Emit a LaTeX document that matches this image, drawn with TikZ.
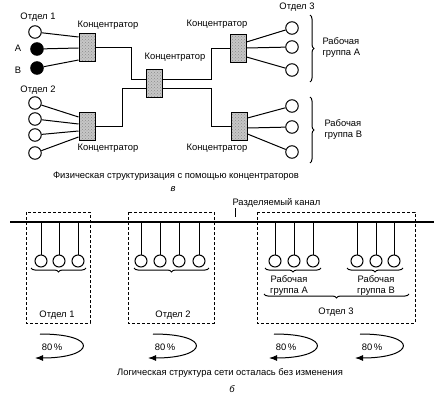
\documentclass[tikz,border=0pt]{standalone}
\usepackage{fontspec}
\setmainfont{Liberation Sans}
\usepackage{tikz}
\usetikzlibrary{arrows.meta}
\usetikzlibrary{patterns}
\usetikzlibrary{decorations.pathreplacing}
\definecolor{mgray}{rgb}{0.55, 0.55, 0.55}

\tikzset{
  hub/.style={draw, minimum width=16pt, minimum height=28pt, inner sep=0pt,
    preaction={fill=mgray!50}, pattern=crosshatch dots, pattern color=mgray},
  station/.style={draw, circle, minimum size=12.5pt, inner sep=0pt, fill=white},
  busy/.style={station, fill=black},
  txt/.style={font=\fontsize{9.4}{11}\selectfont, inner sep=0pt, align=center},
  tag/.style={font=\fontsize{9.4}{11}\selectfont\itshape, inner sep=0pt},
  deptbox/.style={dash pattern=on 3pt off 2pt},
  brc/.style={decorate, decoration={brace, amplitude=4pt}},
  flow/.style={-{Latex[length=8pt, width=6pt]}}
}

\begin{document}
\begin{tikzpicture}[x=1pt, y=-1pt, line width=1pt]
  \useasboundingbox (0, 0) rectangle (442, 401);

  % concentrators
  \node [hub] (k1) at (87, 48) {};
  \node [hub] (k2) at (87, 127) {};
  \node [hub] (k0) at (154, 84) {};
  \node [hub] (k3) at (238, 49) {};
  \node [hub] (k4) at (239, 127) {};

  \node [txt] (lk1) at (108, 25) {Концентратор};
  \node [txt] (lk2) at (108, 148) {Концентратор};
  \node [txt] (lk0) at (175, 57) {Концентратор};
  \node [txt] (lk3) at (217, 24) {Концентратор};
  \node [txt] (lk4) at (217, 148) {Концентратор};

  \draw (k1.east) -- ++(36, 0) |- ([yshift=4pt]k0.west);
  \draw (k2.east) -- ++(27, 0) |- ([yshift=-5pt]k0.west);
  \draw ([yshift=4pt]k0.east) -- ++(49, 0) |- (k3.west);
  \draw ([yshift=-5pt]k0.east) -- ++(49, 0) |- (k4.west);

  % Otdel 1
  \node [txt] (lo1) at (38, 17) {Отдел 1};
  \node [station] (s11) at (35, 32) {};
  \node [busy] (s12) at (37, 49) {};
  \node [busy] (s13) at (37, 68) {};
  \node [txt] (la) at (18, 48) {A};
  \node [txt] (lb) at (18, 70) {B};
  \draw (s11) -- ([yshift=11pt]k1.west);
  \draw (s12) -- (k1.west);
  \draw (s13) -- ([yshift=-12pt]k1.west);

  % Otdel 2
  \node [txt] (lo2) at (38, 90) {Отдел 2};
  \foreach \y/\h [count=\i] in {103/10, 119/3, 135/-4, 153/-10} {
    \node [station] (s2\i) at (35, \y) {};
    \draw (s2\i) -- ([yshift=\h pt]k2.west);
  }

  % Otdel 3
  \node [txt] (lo3) at (297, 7) {Отдел 3};
  \foreach \y/\h [count=\i] in {28/7, 47/1, 70/-8} {
    \node [station] (s3\i) at (292, \y) {};
    \draw (s3\i) -- ([yshift=\h pt]k3.east);
  }
  \foreach \y/\h [count=\i] in {106/9, 127/-1, 152/-7} {
    \node [station] (s4\i) at (292, \y) {};
    \draw (s4\i) -- ([yshift=\h pt]k4.east);
  }
  \draw [brc] (310, 15) -- (310, 82);
  \draw [brc] (310, 97) -- (310, 163);
  \node [txt, anchor=west, align=left] (lga) at (322, 48) {Рабочая\\группа A};
  \node [txt, anchor=west, align=left] (lgb) at (324, 130) {Рабочая\\группа B};

  \node [txt] (cap1) at (176, 176) {Физическая структуризация с помощью концентраторов};
  \node [tag] (tag1) at (173, 189) {в};

  % shared bus
  \draw [deptbox] (26, 212) rectangle (90, 323);
  \draw [deptbox] (128, 212) rectangle (214, 323);
  \draw [deptbox] (257, 212) rectangle (415, 323);

  \coordinate (busL) at (10, 222);
  \coordinate (busR) at (434, 222);
  \draw [line width=1.8pt] (busL) -- (busR);
  \node [txt, anchor=south west] (lbus) at (232, 208) {Разделяемый канал};
  \draw ([xshift=3pt]lbus.south west) -- ++(0, 9);

  \foreach \x [count=\i] in {41, 59, 78} {
    \node [station, minimum size=12pt] (p1\i) at (\x, 261) {};
    \draw (p1\i) -- (p1\i |- busL);
  }
  \foreach \x [count=\i] in {141, 160, 179, 199} {
    \node [station, minimum size=12pt] (p2\i) at (\x, 261) {};
    \draw (p2\i) -- (p2\i |- busL);
  }
  \foreach \x [count=\i] in {275, 294, 313} {
    \node [station, minimum size=12pt] (pa\i) at (\x, 261) {};
    \draw (pa\i) -- (pa\i |- busL);
  }
  \foreach \x [count=\i] in {357, 376, 394} {
    \node [station, minimum size=12pt] (pb\i) at (\x, 261) {};
    \draw (pb\i) -- (pb\i |- busL);
  }

  \draw [brc] (86, 268) -- (31, 268);
  \draw [brc] (209, 268) -- (134, 268);
  \draw [brc] (321, 268) -- (265, 268);
  \draw [brc] (403, 268) -- (347, 268);
  \draw [brc] (409, 294) -- (264, 294);

  \node [txt] (lq1) at (57, 315) {Отдел 1};
  \node [txt] (lq2) at (173, 315) {Отдел 2};
  \node [txt] (lqa) at (289, 286) {Рабочая\\группа A};
  \node [txt] (lqb) at (376, 286) {Рабочая\\группа B};
  \node [txt] (lq3) at (336, 312) {Отдел 3};

  % traffic
  \foreach \x in {40, 153, 274, 360} {
    \draw [flow] (\x, 334) .. controls (\x + 60, 334) and (\x + 55, 358) .. (\x - 5, 358);
    \node [txt] (pc\x) at (\x + 12, 347) {80\,\%};
  }

  \node [txt] (cap2) at (230, 373) {Логическая структура сети осталась без изменения};
  \node [tag] (tag2) at (232, 389) {б};
\end{tikzpicture}
\end{document}
